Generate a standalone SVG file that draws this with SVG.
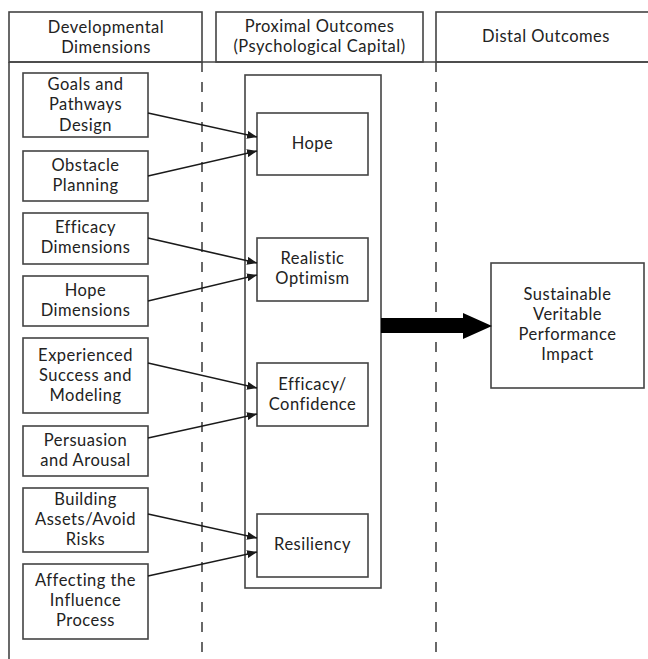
<svg xmlns="http://www.w3.org/2000/svg" width="648" height="659" viewBox="0 0 648 659">
  <defs>
    <marker id="tip" viewBox="0 0 10 8" refX="10" refY="4" markerWidth="10" markerHeight="8" markerUnits="userSpaceOnUse" orient="auto">
      <path d="M0,0 L10,4 L0,8 Z" fill="#1a1a1a"/>
    </marker>
    <style>
      .box { fill: #fff; stroke: #444; stroke-width: 1.6; }
      .frame { fill: none; stroke: #444; stroke-width: 1.6; }
      .dash { stroke: #444; stroke-width: 1.6; stroke-dasharray: 10 10; fill: none; }
      .lbl { font-family: Lato, "Open Sans", sans-serif; font-size: 16.5px; letter-spacing: 0.5px; fill: #222; text-anchor: middle; }
      .link { stroke: #1a1a1a; stroke-width: 1.6; fill: none; marker-end: url(#tip); }
    </style>
  </defs>

  <rect width="648" height="659" fill="#fff"/>

  <!-- column headers -->
  <g id="hdr-dev">
    <rect class="box" x="9" y="12" width="193" height="50"/>
    <text class="lbl" x="106" y="33">Developmental</text>
    <text class="lbl" x="106" y="53">Dimensions</text>
  </g>
  <g id="hdr-prox">
    <rect class="box" x="216" y="12" width="207" height="50"/>
    <text class="lbl" x="319.5" y="32">Proximal Outcomes</text>
    <text class="lbl" x="319.5" y="52">(Psychological Capital)</text>
  </g>
  <g id="hdr-dist">
    <rect class="box" x="436" y="12" width="220" height="50"/>
    <text class="lbl" x="546" y="42">Distal Outcomes</text>
  </g>

  <!-- lane frame and separators -->
  <g id="lanes">
    <line class="frame" x1="9" y1="62" x2="648" y2="62"/>
    <line class="frame" x1="9" y1="62" x2="9" y2="659"/>
    <line class="frame" x1="202" y1="62" x2="202" y2="72"/>
    <line class="dash" x1="202" y1="82" x2="202" y2="659"/>
    <line class="frame" x1="436" y1="62" x2="436" y2="72"/>
    <line class="dash" x1="436" y1="82" x2="436" y2="659"/>
  </g>

  <!-- developmental dimensions -->
  <g id="goals">
    <rect class="box" x="23" y="73" width="125" height="64"/>
    <text class="lbl" x="85.5" y="90">Goals and</text>
    <text class="lbl" x="85.5" y="110">Pathways</text>
    <text class="lbl" x="85.5" y="131">Design</text>
  </g>
  <g id="obstacle">
    <rect class="box" x="23" y="151" width="125" height="50"/>
    <text class="lbl" x="85.5" y="171">Obstacle</text>
    <text class="lbl" x="85.5" y="191">Planning</text>
  </g>
  <g id="efficacy-dim">
    <rect class="box" x="23" y="213" width="125" height="51"/>
    <text class="lbl" x="85.5" y="233">Efficacy</text>
    <text class="lbl" x="85.5" y="253">Dimensions</text>
  </g>
  <g id="hope-dim">
    <rect class="box" x="23" y="276" width="125" height="50"/>
    <text class="lbl" x="85.5" y="296">Hope</text>
    <text class="lbl" x="85.5" y="316">Dimensions</text>
  </g>
  <g id="experienced">
    <rect class="box" x="23" y="338" width="125" height="75"/>
    <text class="lbl" x="85.5" y="361">Experienced</text>
    <text class="lbl" x="85.5" y="381">Success and</text>
    <text class="lbl" x="85.5" y="401">Modeling</text>
  </g>
  <g id="persuasion">
    <rect class="box" x="23" y="426" width="125" height="50"/>
    <text class="lbl" x="85.5" y="446">Persuasion</text>
    <text class="lbl" x="85.5" y="466">and Arousal</text>
  </g>
  <g id="building">
    <rect class="box" x="23" y="488" width="125" height="64"/>
    <text class="lbl" x="85.5" y="505">Building</text>
    <text class="lbl" x="85.5" y="525">Assets/Avoid</text>
    <text class="lbl" x="85.5" y="545">Risks</text>
  </g>
  <g id="affecting">
    <rect class="box" x="23" y="564" width="125" height="75"/>
    <text class="lbl" x="85.5" y="586">Affecting the</text>
    <text class="lbl" x="85.5" y="606">Influence</text>
    <text class="lbl" x="85.5" y="626">Process</text>
  </g>

  <!-- psychological capital -->
  <g id="psycap">
    <rect class="box" x="245" y="75" width="136" height="513"/>
  </g>
  <g id="hope">
    <rect class="box" x="257" y="113" width="111" height="62"/>
    <text class="lbl" x="312.5" y="149">Hope</text>
  </g>
  <g id="optimism">
    <rect class="box" x="257" y="238" width="111" height="63"/>
    <text class="lbl" x="312.5" y="264">Realistic</text>
    <text class="lbl" x="312.5" y="284">Optimism</text>
  </g>
  <g id="efficacy">
    <rect class="box" x="257" y="363" width="111" height="63"/>
    <text class="lbl" x="312.5" y="390">Efficacy/</text>
    <text class="lbl" x="312.5" y="410">Confidence</text>
  </g>
  <g id="resiliency">
    <rect class="box" x="257" y="514" width="111" height="63"/>
    <text class="lbl" x="312.5" y="550">Resiliency</text>
  </g>

  <!-- distal outcome -->
  <g id="impact">
    <rect class="box" x="491" y="263" width="153" height="125"/>
    <text class="lbl" x="567.5" y="300">Sustainable</text>
    <text class="lbl" x="567.5" y="320">Veritable</text>
    <text class="lbl" x="567.5" y="340">Performance</text>
    <text class="lbl" x="567.5" y="360">Impact</text>
  </g>

  <!-- connectors -->
  <g id="connectors">
    <line class="link" x1="148" y1="113" x2="257" y2="137"/>
    <line class="link" x1="148" y1="176" x2="257" y2="151"/>
    <line class="link" x1="148" y1="238" x2="257" y2="263"/>
    <line class="link" x1="148" y1="301" x2="257" y2="275"/>
    <line class="link" x1="148" y1="363" x2="257" y2="388"/>
    <line class="link" x1="148" y1="438" x2="257" y2="414"/>
    <line class="link" x1="148" y1="514" x2="257" y2="538"/>
    <line class="link" x1="148" y1="576" x2="257" y2="552"/>
    <path d="M381,318 L463,318 L463,313 L492,326 L463,339 L463,333 L381,333 Z" fill="#000"/>
  </g>
</svg>
